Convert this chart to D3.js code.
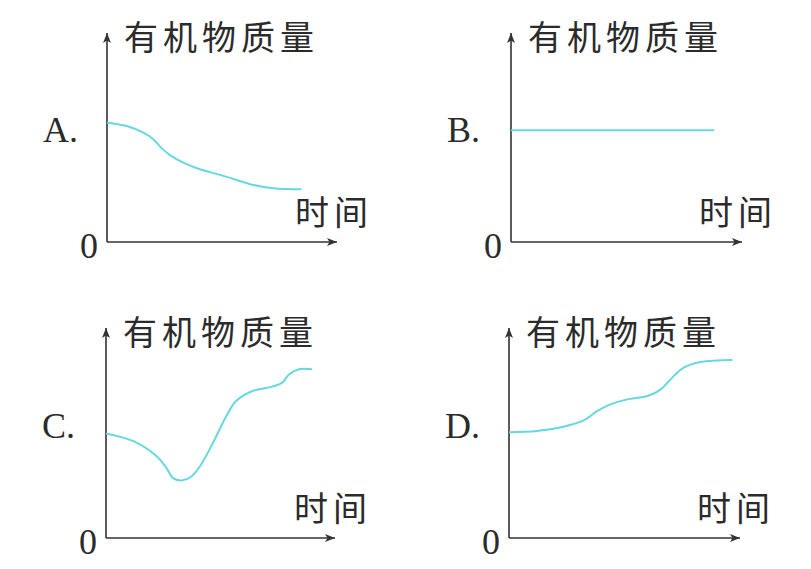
<!DOCTYPE html>
<html>
<head>
<meta charset="utf-8">
<script src="https://cdn.jsdelivr.net/npm/d3@7"></script>
<style>
  body { margin: 0; background: #fff; }
  .cjk { font-family: "Noto Sans CJK SC", sans-serif; font-size: 34px; fill: #2b2b2b; letter-spacing: 5px; }
  .ser { font-family: "Liberation Serif", "Times New Roman", serif; font-size: 36px; fill: #2b2b2b; }
</style>
</head>
<body>
<svg width="811" height="569"></svg>
<script>
// values, time and mass both on a 0-100 scale (axis ends)
const timeA = [0, 8.6, 15.8, 20.1, 23.8, 27.4, 33.2, 40.4, 49.1, 56.4, 63.6, 72.3, 84.6];
const massA = [57.1, 55.5, 52.3, 49.2, 44.8, 41.6, 38, 34.8, 32.1, 29.7, 27.3, 25.7, 25.2];

const timeB = [0, 88];
const massB = [53.5, 53.5];

const timeC = [0, 12, 22, 26.4, 29.3, 33, 37.3, 41, 46.7, 52.5, 56.8, 64, 72.7, 77, 80, 84.3, 90];
const massC = [49.8, 46.1, 39, 33.3, 28.5, 27.4, 29.3, 34.1, 45.3, 58, 65.2, 70, 72.1, 74, 78, 80.4, 80.4];

const timeD = [0, 12, 23.6, 32.3, 38.1, 43.9, 51.2, 60, 65.7, 71.4, 75.8, 83, 96.8];
const massD = [50.4, 50.9, 53, 56, 60.4, 63.6, 66, 67.6, 70.8, 77.2, 81.2, 83.8, 84.8];

const options = ["A.", "B.", "C.", "D."];
const yTitle = "有机物质量";
const xTitle = "时间";
const originLabel = "0";

const panels = [
  { name: options[0], t: timeA, m: massA, xr: [107, 337], yr: [242, 33] },
  { name: options[1], t: timeB, m: massB, xr: [511, 742], yr: [242, 33] },
  { name: options[2], t: timeC, m: massC, xr: [106, 335], yr: [538, 328] },
  { name: options[3], t: timeD, m: massD, xr: [509, 740], yr: [538, 328] }
];

const svg = d3.select("svg");

svg.append("defs").append("marker")
  .attr("id", "arrow")
  .attr("viewBox", "0 0 10 8")
  .attr("refX", 10).attr("refY", 4)
  .attr("markerWidth", 10).attr("markerHeight", 8)
  .attr("markerUnits", "userSpaceOnUse")
  .attr("orient", "auto")
  .append("path")
  .attr("d", "M0,0L10,4L0,8L2.5,4Z")
  .attr("fill", "#333");

panels.forEach(p => {
  const x = d3.scaleLinear().domain([0, 100]).range(p.xr);
  const y = d3.scaleLinear().domain([0, 100]).range(p.yr);
  const g = svg.append("g");

  // axes with arrow heads
  g.append("line")
    .attr("x1", x(0)).attr("y1", y(0)).attr("x2", x(100)).attr("y2", y(0))
    .attr("stroke", "#333").attr("stroke-width", 1.6)
    .attr("marker-end", "url(#arrow)");
  g.append("line")
    .attr("x1", x(0)).attr("y1", y(0)).attr("x2", x(0)).attr("y2", y(100))
    .attr("stroke", "#333").attr("stroke-width", 1.6)
    .attr("marker-end", "url(#arrow)");

  const line = d3.line()
    .x((d, i) => x(p.t[i]))
    .y(d => y(d))
    .curve(d3.curveCatmullRom.alpha(0.5));

  g.append("path")
    .datum(p.m)
    .attr("d", line)
    .attr("fill", "none")
    .attr("stroke", "#66d8df")
    .attr("stroke-width", 2);

  g.append("text").attr("class", "ser")
    .attr("x", x(0) - 64).attr("y", y(0) - 100)
    .text(p.name);
  g.append("text").attr("class", "ser")
    .attr("x", x(0) - 9).attr("y", y(0) + 16)
    .attr("text-anchor", "end")
    .text(originLabel);
  g.append("text").attr("class", "cjk")
    .attr("x", x(0) + 17).attr("y", y(100) + 17)
    .text(yTitle);
  g.append("text").attr("class", "cjk")
    .attr("x", x(0) + 188).attr("y", y(0) - 17)
    .text(xTitle);
});
</script>
</body>
</html>
